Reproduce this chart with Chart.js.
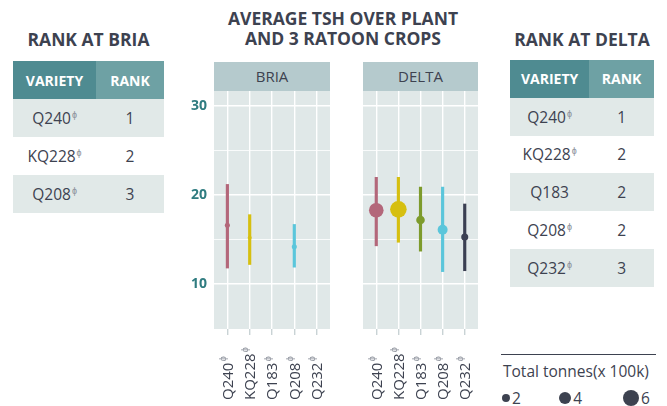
<!DOCTYPE html>
<html lang="en">
<head>
<meta charset="UTF-8">
<title>Average TSH over plant and 3 ratoon crops</title>
<script src="https://cdn.jsdelivr.net/npm/chart.js"></script>
<style>
  body {
    margin: 0;
    width: 667px;
    height: 406px;
    position: relative;
    overflow: hidden;
    background: #fff;
    font-family: "Open Sans", sans-serif;
    color: #3d4250;
  }
  .title {
    position: absolute;
    font-weight: 700;
    font-size: 17.5px;
    line-height: 20px;
    text-align: center;
    white-space: nowrap;
  }
  table {
    position: absolute;
    border-collapse: collapse;
    table-layout: fixed;
  }
  th {
    color: #fff;
    font-weight: 700;
    font-size: 14px;
    padding: 0;
  }
  th.v { background: #4f8b91; }
  th.r { background: #6ea1a4; }
  td {
    text-align: center;
    font-size: 15.5px;
    padding: 0;
  }
  tr.shade td { background: #e1e9e8; }
  sup {
    font-size: 9px;
    color: #8b909a;
    vertical-align: 6px;
    margin-left: 1px;
  }
  .strip {
    position: absolute;
    top: 62px;
    height: 29px;
    line-height: 29px;
    background: #b5cacd;
    text-align: center;
    font-size: 15px;
  }
  canvas { position: absolute; }
  .legend {
    position: absolute;
    left: 501px;
    top: 354px;
    width: 155px;
    border-top: 1px solid #3d4250;
    font-size: 15.5px;
  }
  .legend .lt { margin: 5px 0 0 2px; white-space: nowrap; }
  .legend .dot {
    position: absolute;
    border-radius: 50%;
    background: #3d4250;
  }
  .legend .num { position: absolute; font-size: 15.5px; }
</style>
</head>
<body>

<div class="title" style="left:213px;width:260px;top:8px;">AVERAGE TSH OVER PLANT<br>AND 3 RATOON CROPS</div>
<div class="title" style="left:13px;width:151px;top:29px;">RANK AT BRIA</div>
<div class="title" style="left:510px;width:144px;top:29px;">RANK AT DELTA</div>

<table id="briaTable" style="left:13px;top:61px;width:151px;"></table>
<table id="deltaTable" style="left:510px;top:60px;width:144px;"></table>

<div class="strip" style="left:214px;width:116px;">BRIA</div>
<div class="strip" style="left:363px;width:115px;">DELTA</div>

<canvas id="briaChart" width="162" height="315" style="left:170px;top:91px;"></canvas>
<canvas id="deltaChart" width="117" height="315" style="left:363px;top:91px;"></canvas>

<div class="legend" id="legend">
  <div class="lt">Total tonnes(x 100k)</div>
</div>

<script>
  // varieties on the x axis
  const varieties = ['Q240', 'KQ228', 'Q183', 'Q208', 'Q232'];
  const varietyColors = ['#b3677a', '#d6bf10', '#7d9b2c', '#5bc6db', '#3a3f52'];

  // BRIA: mean TSH, range and total tonnes (x 100k)
  const briaMean   = [16.6, 15.2, null, 14.2, null];
  const briaLow    = [11.8, 12.2, null, 11.9, null];
  const briaHigh   = [21.2, 17.8, null, 16.7, null];
  const briaTonnes = [1.2, 1.0, null, 1.2, null];

  // DELTA
  const deltaMean   = [18.3, 18.4, 17.2, 16.1, 15.3];
  const deltaLow    = [14.3, 14.7, 13.7, 11.4, 11.5];
  const deltaHigh   = [22.0, 22.0, 20.9, 20.9, 19.0];
  const deltaTonnes = [5.1, 6.4, 2.2, 2.75, 1.7];

  // rank tables
  const briaRankVarieties  = ['Q240', 'KQ228', 'Q208'];
  const briaRanks          = [1, 2, 3];
  const deltaRankVarieties = ['Q240', 'KQ228', 'Q183', 'Q208', 'Q232'];
  const deltaRanks         = [1, 2, 2, 2, 3];
  const pbrVarieties = ['Q240', 'KQ228', 'Q208', 'Q232'];

  const yTicks = [10, 15, 20, 25, 30];
  const legendTonnes = [2, 4, 6];

  const PBR = '\u0278';
  const textColor = '#3d4250';

  function radius(t) {
    return Math.sqrt(12 * t - 8);
  }

  function buildTable(id, names, ranks, rowH) {
    const tbl = document.getElementById(id);
    let html = '<colgroup><col style="width:55%"><col style="width:45%"></colgroup>';
    html += '<tr style="height:' + rowH + 'px"><th class="v">VARIETY</th><th class="r">RANK</th></tr>';
    names.forEach((n, i) => {
      const sym = pbrVarieties.includes(n) ? '<sup>' + PBR + '</sup>' : '';
      html += '<tr class="' + (i % 2 === 0 ? 'shade' : '') + '" style="height:' + rowH + 'px">' +
              '<td>' + n + sym + '</td><td>' + ranks[i] + '</td></tr>';
    });
    tbl.innerHTML = html;
  }
  buildTable('briaTable', briaRankVarieties, briaRanks, 38);
  buildTable('deltaTable', deltaRankVarieties, deltaRanks, 37.8);

  // legend
  const legend = document.getElementById('legend');
  const legendX = [5, 64, 130];
  legendTonnes.forEach((t, i) => {
    const r = radius(t);
    const d = document.createElement('div');
    d.className = 'dot';
    d.style.width = d.style.height = (2 * r) + 'px';
    d.style.left = (legendX[i] - r) + 'px';
    d.style.top = (43 - r) + 'px';
    legend.appendChild(d);
    const n = document.createElement('div');
    n.className = 'num';
    n.textContent = t;
    n.style.left = (legendX[i] + r + 2) + 'px';
    n.style.top = '32px';
    legend.appendChild(n);
  });

  const panelBg = {
    id: 'panelBg',
    beforeDraw(chart) {
      const { ctx, chartArea: a } = chart;
      ctx.save();
      ctx.fillStyle = '#e0e8e8';
      ctx.fillRect(a.left, a.top, a.right - a.left, a.bottom - a.top);
      ctx.restore();
    }
  };

  const xLabels = {
    id: 'xLabels',
    afterDraw(chart) {
      const { ctx } = chart;
      const scale = chart.scales.x;
      ctx.save();
      ctx.fillStyle = textColor;
      varieties.forEach((v, i) => {
        const x = scale.getPixelForTick(i);
        ctx.save();
        ctx.translate(x + 1, 309);
        ctx.rotate(-Math.PI / 2);
        ctx.textAlign = 'left';
        ctx.textBaseline = 'middle';
        ctx.font = '15px "Open Sans", sans-serif';
        ctx.fillText(v, 0, 0);
        const w = ctx.measureText(v).width;
        ctx.font = '9.5px "Open Sans", sans-serif';
        ctx.fillStyle = '#8b909a';
        ctx.fillText(PBR, w + 1, -5);
        ctx.restore();
      });
      ctx.restore();
    }
  };

  function makeChart(id, mean, low, high, tonnes, showY) {
    const ranges = varieties.map((v, i) => low[i] == null ? null : [low[i], high[i]]);
    const points = [];
    const pointColors = [];
    varieties.forEach((v, i) => {
      if (mean[i] != null) {
        points.push({ x: v, y: mean[i], r: radius(tonnes[i]) });
        pointColors.push(varietyColors[i]);
      }
    });
    return new Chart(document.getElementById(id), {
      type: 'bar',
      data: {
        labels: varieties,
        datasets: [
          {
            type: 'bar',
            data: ranges,
            backgroundColor: varietyColors,
            barThickness: 2.5,
            order: 2
          },
          {
            type: 'bubble',
            data: points,
            backgroundColor: pointColors,
            borderWidth: 0,
            hoverBorderWidth: 0,
            clip: false,
            order: 1
          }
        ]
      },
      options: {
        responsive: false,
        animation: false,
        events: [],
        layout: { autoPadding: false, padding: { left: 0, right: 2, top: 0, bottom: 0 } },
        plugins: { legend: { display: false }, tooltip: { enabled: false } },
        scales: {
          x: {
            type: 'category',
            offset: true,
            grid: {
              offset: false,
              color: '#ffffff',
              lineWidth: 1.4,
              tickColor: '#c9d3d5',
              tickLength: 6
            },
            border: { display: false },
            ticks: { display: false },
            afterBuildTicks(scale) {
              // widen the discrete axis margin to 0.6 of a category on each side
              scale._startValue = -0.6;
              scale._valueRange = varieties.length + 0.2;
            },
            afterFit(scale) {
              scale.height = 77;
              scale.paddingLeft = scale.paddingRight = 0;
            }
          },
          y: {
            min: 4.95,
            max: 31.7,
            afterBuildTicks(scale) {
              scale.ticks = yTicks.map(v => ({ value: v }));
            },
            grid: {
              color: '#ffffff',
              lineWidth: ctx => (ctx.tick && ctx.tick.value % 10 === 0) ? 1.6 : 0.8,
              drawTicks: false
            },
            border: { display: false },
            ticks: {
              display: showY,
              padding: 7,
              color: '#2f7c80',
              font: { family: '"Open Sans", sans-serif', size: 14, weight: 'bold' },
              callback: v => (v % 10 === 0 ? v : '')
            },
            afterFit(scale) {
              scale.width = showY ? 44 : 0;
              scale.paddingTop = scale.paddingBottom = 0;
            }
          }
        }
      },
      plugins: [panelBg, xLabels]
    });
  }

  makeChart('briaChart', briaMean, briaLow, briaHigh, briaTonnes, true);
  makeChart('deltaChart', deltaMean, deltaLow, deltaHigh, deltaTonnes, false);
</script>
</body>
</html>
